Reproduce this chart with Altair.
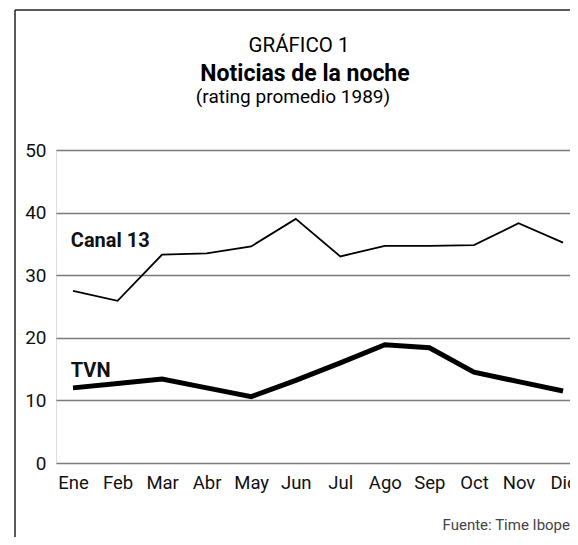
import altair as alt
import pandas as pd

months = ["Ene", "Feb", "Mar", "Abr", "May", "Jun", "Jul", "Ago", "Sep", "Oct", "Nov", "Dic"]
canal13 = [27.5, 25.9, 33.3, 33.5, 34.6, 39.0, 33.0, 34.7, 34.7, 34.8, 38.3, 35.2]
tvn = [12.0, 12.7, 13.4, 12.0, 10.6, 13.2, 16.0, 18.9, 18.4, 14.5, 13.0, 11.5]
y_ticks = [0, 10, 20, 30, 40, 50]

FONT = "Roboto"

df = pd.DataFrame({
    "i": list(range(12)) * 2,
    "mes": months * 2,
    "rating": canal13 + tvn,
    "serie": ["Canal 13"] * 12 + ["TVN"] * 12,
})

labels = pd.DataFrame({
    "i": [-0.05, -0.05],
    "rating": [34.5, 13.7],
    "serie": ["Canal 13", "TVN"],
})

label_expr = "[" + ",".join(f"'{m}'" for m in months) + "][datum.value]"

x = alt.X("i:Q", scale=alt.Scale(domain=[-0.382, 11.156], nice=False, zero=False),
          axis=alt.Axis(values=list(range(12)), labelExpr=label_expr, title=None,
                        grid=False, domain=False, ticks=False, labelFont=FONT,
                        labelFontSize=18.5, labelColor="#111", labelPadding=10,
                        labelFlush=False, labelOverlap=False))
y = alt.Y("rating:Q", scale=alt.Scale(domain=[0, 50], nice=False),
          axis=alt.Axis(values=y_ticks, title=None, grid=True, gridColor="#7a7a7a",
                        gridWidth=1.6, domain=False, ticks=False, labelFont=FONT,
                        labelFontSize=19, labelColor="#111", labelPadding=10))

base = alt.Chart(df)

line13 = base.transform_filter(alt.datum.serie == "Canal 13").mark_line(
    color="black", strokeWidth=1.8).encode(x=x, y=y)
linetvn = base.transform_filter(alt.datum.serie == "TVN").mark_line(
    color="black", strokeWidth=5).encode(x=x, y=y)

serie_labels = alt.Chart(labels).mark_text(
    align="left", baseline="alphabetic", font=FONT, fontSize=20, fontWeight="bold",
    color="#111").encode(x="i:Q", y="rating:Q", text="serie:N")

def txt(t, xpos, ypos, size, weight="normal", align="center", color="black"):
    return alt.Chart(pd.DataFrame({"t": [t]})).mark_text(
        align=align, baseline="alphabetic", font=FONT, fontSize=size,
        fontWeight=weight, color=color).encode(
        x=alt.value(xpos), y=alt.value(ypos), text="t:N")

t1 = txt("GRÁFICO 1", 243, -98, 20.5)
t2 = txt("Noticias de la noche", 249, -69, 23, weight="bold")
t3 = txt("(rating promedio 1989)", 237, -47, 19)
src = txt("Fuente: Time Ibope", 514, 380, 15, align="right", color="#444")

frame_top = alt.Chart(pd.DataFrame({"a": [0]})).mark_rule(
    color="#222", strokeWidth=1.5).encode(x=alt.value(-41), x2=alt.value(520), y=alt.value(-140))
frame_left = alt.Chart(pd.DataFrame({"a": [0]})).mark_rule(
    color="#222", strokeWidth=1.5).encode(x=alt.value(-41), y=alt.value(-140), y2=alt.value(400))

chart = alt.layer(
    line13, linetvn, serie_labels, t1, t2, t3, src, frame_top, frame_left
).properties(
    width=514, height=313,
    autosize=alt.AutoSizeParams(type="none"),
    padding={"left": 48, "top": 142, "right": 0, "bottom": 74},
).configure_view(stroke=None).configure(background="white")

chart.save("out.html", embed_options={"renderer": "svg", "actions": False})
